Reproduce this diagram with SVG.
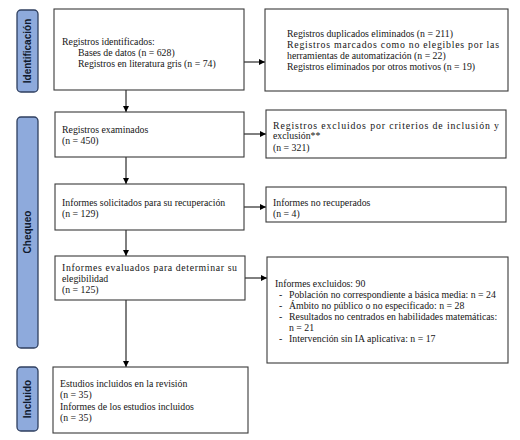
<svg xmlns="http://www.w3.org/2000/svg" width="520" height="440" viewBox="0 0 520 440">
<style>
.box{fill:#fff;stroke:#3a3a3a;stroke-width:1.1}
.lab{fill:#8eaadc;stroke:#2f3f5f;stroke-width:1.3}
.lt{font-family:"Liberation Sans",Arial,sans-serif;font-weight:bold;font-size:10px;fill:#111a2e;text-anchor:middle}
.t{font-family:"Liberation Serif","Times New Roman",serif;font-size:9.8px;fill:#151515}
.c{fill:none;stroke:#000;stroke-width:1}
</style>
<defs>
<marker id="ah" viewBox="0 0 10 10" refX="10" refY="5" markerWidth="6" markerHeight="6" orient="auto" markerUnits="userSpaceOnUse">
<path d="M0,0 L10,5 L0,10 z" fill="#000"/>
</marker>
</defs>
<rect width="520" height="440" fill="#fff"/>

<g id="stage-identificacion">
<rect class="lab" x="17" y="10" width="21" height="82" rx="4"/>
<text class="lt" transform="translate(31,51) rotate(-90)">Identificación</text>
</g>
<g id="stage-chequeo">
<rect class="lab" x="17" y="117" width="21" height="231" rx="4"/>
<text class="lt" transform="translate(31,232) rotate(-90)">Chequeo</text>
</g>
<g id="stage-incluido">
<rect class="lab" x="17" y="367" width="21" height="64" rx="4"/>
<text class="lt" transform="translate(31,399) rotate(-90)">Incluido</text>
</g>

<g id="connectors">
<line class="c" x1="126" y1="90" x2="126" y2="112" marker-end="url(#ah)"/>
<line class="c" x1="126" y1="157" x2="126" y2="184" marker-end="url(#ah)"/>
<line class="c" x1="126" y1="230" x2="126" y2="256" marker-end="url(#ah)"/>
<line class="c" x1="126" y1="300" x2="126" y2="367" marker-end="url(#ah)"/>
<line class="c" x1="244" y1="62" x2="265" y2="62" marker-end="url(#ah)"/>
<line class="c" x1="244" y1="134" x2="266" y2="134" marker-end="url(#ah)"/>
<line class="c" x1="244" y1="207" x2="266" y2="207" marker-end="url(#ah)"/>
<line class="c" x1="245" y1="278" x2="267" y2="278" marker-end="url(#ah)"/>
</g>

<g id="identificados">
<rect class="box" x="54" y="9" width="190" height="81"/>
<text class="t" x="62" y="45">Registros identificados:</text>
<text class="t" x="78" y="56">Bases de datos (n = 628)</text>
<text class="t" x="78" y="66.5">Registros en literatura gris (n = 74)</text>
</g>

<g id="eliminados">
<rect class="box" x="265" y="9" width="243" height="82"/>
<text class="t" x="287" y="37">Registros duplicados eliminados (n = 211)</text>
<text class="t" x="287" y="48" textLength="212" lengthAdjust="spacing">Registros marcados como no elegibles por las</text>
<text class="t" x="287" y="59">herramientas de automatización (n = 22)</text>
<text class="t" x="287" y="70">Registros eliminados por otros motivos (n = 19)</text>
</g>

<g id="examinados">
<rect class="box" x="55" y="112" width="189" height="45"/>
<text class="t" x="62" y="133">Registros examinados</text>
<text class="t" x="62" y="144">(n = 450)</text>
</g>

<g id="excluidos-criterios">
<rect class="box" x="266" y="110" width="240" height="48"/>
<text class="t" x="273" y="128.5" textLength="226" lengthAdjust="spacing">Registros excluidos por criterios de inclusión y</text>
<text class="t" x="273" y="139">exclusión**</text>
<text class="t" x="273" y="150.5">(n = 321)</text>
</g>

<g id="solicitados">
<rect class="box" x="55" y="184" width="189" height="46"/>
<text class="t" x="62" y="206">Informes solicitados para su recuperación</text>
<text class="t" x="62" y="217">(n = 129)</text>
</g>

<g id="no-recuperados">
<rect class="box" x="266" y="187" width="240" height="35"/>
<text class="t" x="273" y="206">Informes no recuperados</text>
<text class="t" x="273" y="217">(n = 4)</text>
</g>

<g id="evaluados">
<rect class="box" x="55" y="256" width="190" height="44"/>
<text class="t" x="62" y="271" textLength="175" lengthAdjust="spacing">Informes evaluados para determinar su</text>
<text class="t" x="62" y="282">elegibilidad</text>
<text class="t" x="62" y="292.5">(n = 125)</text>
</g>

<g id="excluidos">
<rect class="box" x="267" y="257" width="241" height="106"/>
<text class="t" x="275" y="287">Informes excluidos: 90</text>
<text class="t" x="279" y="298">-</text>
<text class="t" x="289" y="298">Población no correspondiente a básica media: n = 24</text>
<text class="t" x="279" y="309">-</text>
<text class="t" x="289" y="309">Ámbito no público o no especificado: n = 28</text>
<text class="t" x="279" y="320">-</text>
<text class="t" x="289" y="320">Resultados no centrados en habilidades matemáticas:</text>
<text class="t" x="289" y="331">n = 21</text>
<text class="t" x="279" y="342">-</text>
<text class="t" x="289" y="342">Intervención sin IA aplicativa: n = 17</text>
</g>

<g id="incluidos">
<rect class="box" x="53" y="367" width="195" height="66"/>
<text class="t" x="60" y="387">Estudios incluidos en la revisión</text>
<text class="t" x="60" y="398">(n = 35)</text>
<text class="t" x="60" y="410">Informes de los estudios incluidos</text>
<text class="t" x="60" y="421">(n = 35)</text>
</g>
</svg>
